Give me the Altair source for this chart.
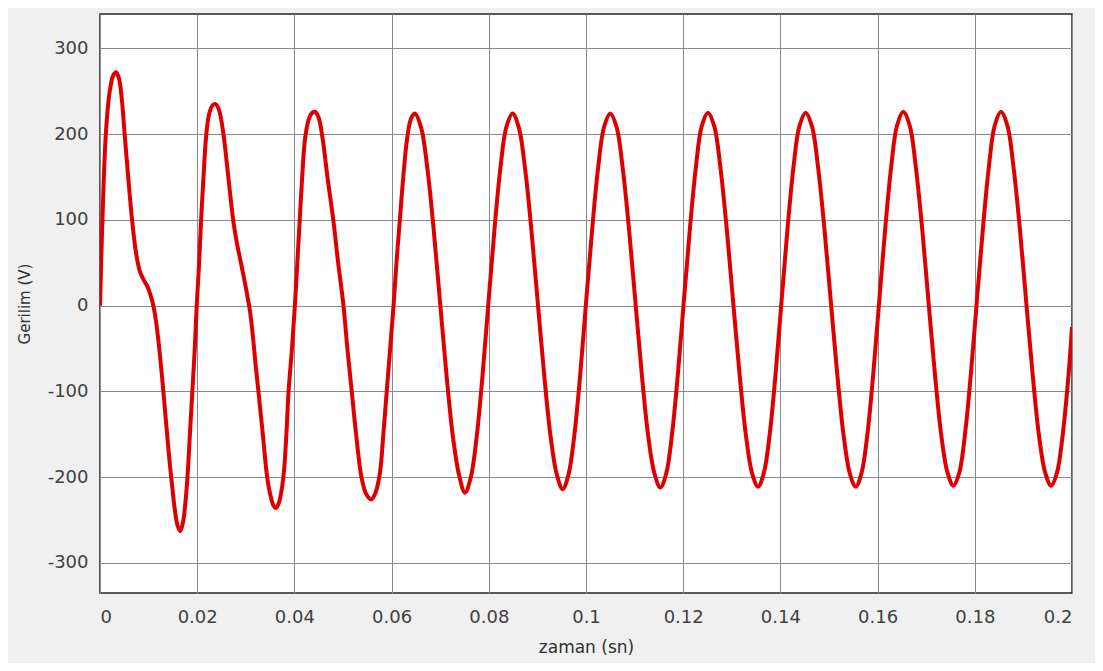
import altair as alt
import pandas as pd

# time (s) and voltage (V)
t_transient = [0.0, 0.0005, 0.0012, 0.0020, 0.0027, 0.0033, 0.0039, 0.0045, 0.0050, 0.0058,
               0.0066, 0.0074, 0.0082, 0.0090, 0.0097, 0.0103, 0.0109, 0.0115, 0.0121, 0.0128,
               0.0135, 0.0142, 0.0148, 0.0154, 0.0159, 0.0165, 0.0171, 0.0176, 0.0180, 0.0185,
               0.0190, 0.0195, 0.0199, 0.0204, 0.0208, 0.0213, 0.0218, 0.0224, 0.0231, 0.0238,
               0.0245, 0.0254, 0.0264, 0.0274, 0.0282, 0.0290, 0.0297, 0.0303, 0.0309, 0.0315,
               0.0320, 0.0326, 0.0335, 0.0344, 0.0351, 0.0357, 0.0362, 0.0368, 0.0374, 0.0379,
               0.0384, 0.0388, 0.0395, 0.0401, 0.0406, 0.0411, 0.0416, 0.0422, 0.0430, 0.0437,
               0.0443, 0.0450, 0.0458, 0.0468, 0.0480, 0.0490, 0.0501, 0.0509, 0.0518, 0.0527,
               0.0538, 0.0548, 0.0558, 0.0567, 0.0576, 0.0583, 0.0590, 0.0597, 0.0604, 0.0610,
               0.0617, 0.0624, 0.0632, 0.0640, 0.0648]
v_transient = [0, 100, 200, 250, 268, 272, 265, 240, 205, 150,
               100, 62, 40, 30, 23, 14, 2, -17, -45, -85,
               -130, -175, -208, -238, -255, -263, -252, -228, -200, -150,
               -100, -50, 0, 50, 100, 150, 195, 222, 233, 235,
               228, 200, 150, 100, 72, 50, 30, 12, -8, -38,
               -68, -100, -150, -200, -222, -233, -236, -230, -214, -190,
               -145, -100, -50, 0, 50, 100, 150, 195, 218, 225,
               226, 219, 195, 150, 100, 50, 0, -50, -100, -150,
               -200, -220, -226, -218, -195, -150, -100, -50, 0, 50,
               100, 150, 195, 218, 224]

t_steady = [0.0661, 0.0674, 0.0687, 0.0700, 0.0713, 0.0726, 0.0739, 0.0751, 0.0763, 0.0775, 0.0787, 0.0800, 0.0812, 0.0824, 0.0836, 0.0849,
            0.0862, 0.0875, 0.0888, 0.0901, 0.0914, 0.0927, 0.0940, 0.0952, 0.0964, 0.0976, 0.0988, 0.1001, 0.1013, 0.1025, 0.1037, 0.1050,
            0.1063, 0.1076, 0.1089, 0.1102, 0.1115, 0.1128, 0.1141, 0.1153, 0.1165, 0.1177, 0.1189, 0.1202, 0.1214, 0.1226, 0.1238, 0.1251,
            0.1264, 0.1277, 0.1290, 0.1303, 0.1316, 0.1329, 0.1342, 0.1354, 0.1366, 0.1378, 0.1390, 0.1403, 0.1415, 0.1427, 0.1439, 0.1452,
            0.1465, 0.1478, 0.1491, 0.1504, 0.1517, 0.1530, 0.1543, 0.1555, 0.1567, 0.1579, 0.1591, 0.1604, 0.1616, 0.1628, 0.1640, 0.1653,
            0.1666, 0.1679, 0.1692, 0.1705, 0.1718, 0.1731, 0.1744, 0.1756, 0.1768, 0.1780, 0.1792, 0.1805, 0.1817, 0.1829, 0.1841, 0.1854,
            0.1867, 0.1880, 0.1893, 0.1906, 0.1919, 0.1932, 0.1945, 0.1957, 0.1969, 0.1981, 0.1993, 0.2000]
v_steady = [207, 158, 86, 2, -81, -152, -198, -218, -200, -153, -82, 9, 91, 161, 208, 224,
            207, 158, 86, 2, -81, -152, -197, -214, -197, -151, -81, 10, 91, 161, 208, 224,
            208, 158, 86, 2, -81, -152, -196, -212, -196, -150, -80, 10, 91, 161, 209, 225,
            209, 159, 87, 3, -80, -151, -196, -211, -195, -150, -80, 10, 92, 162, 209, 225,
            209, 159, 87, 3, -80, -151, -196, -211, -195, -150, -80, 10, 92, 162, 210, 226,
            210, 160, 88, 3, -80, -151, -195, -210, -195, -149, -79, 11, 92, 162, 210, 226,
            210, 160, 88, 3, -80, -151, -195, -210, -195, -150, -80, -25]

x_ticks = [0, 0.02, 0.04, 0.06, 0.08, 0.1, 0.12, 0.14, 0.16, 0.18, 0.2]
y_ticks = [-300, -200, -100, 0, 100, 200, 300]

df = pd.DataFrame({"t": t_transient + t_steady, "v": v_transient + v_steady})

FONT = "DejaVu Sans"

chart = (
    alt.Chart(df)
    .mark_line(color="#dd0000", strokeWidth=4, interpolate="catmull-rom", clip=True)
    .encode(
        x=alt.X("t:Q", scale=alt.Scale(domain=[0, 0.2], nice=False, zero=False),
                axis=alt.Axis(values=x_ticks, labelExpr="'' + datum.value", title="zaman (sn)",
                              titlePadding=13, labelPadding=15, titleFontSize=17)),
        y=alt.Y("v:Q", scale=alt.Scale(domain=[-335, 340], nice=False, zero=False),
                axis=alt.Axis(values=y_ticks, labelExpr="'' + datum.value", title="Gerilim (V)",
                              titlePadding=15, labelPadding=12, titleFontSize=15)),
    )
    .properties(
        width=972,
        height=579,
        background="#f0f0f0",
        autosize=alt.AutoSizeParams(type="none"),
        padding={"left": 92, "top": 6, "right": 23, "bottom": 70},
    )
    .configure_view(fill="white", stroke="#262626", strokeWidth=1.5)
    .configure_axis(
        grid=True,
        gridColor="#8a8a8a",
        gridWidth=1,
        gridOpacity=1,
        domain=False,
        ticks=False,
        labelFont=FONT,
        labelFontSize=18,
        labelColor="#404040",
        titleFont=FONT,
        titleFontWeight="normal",
        titleColor="#303030",
    )
)

chart.save("out.html", embed_options={"renderer": "svg", "actions": False})
